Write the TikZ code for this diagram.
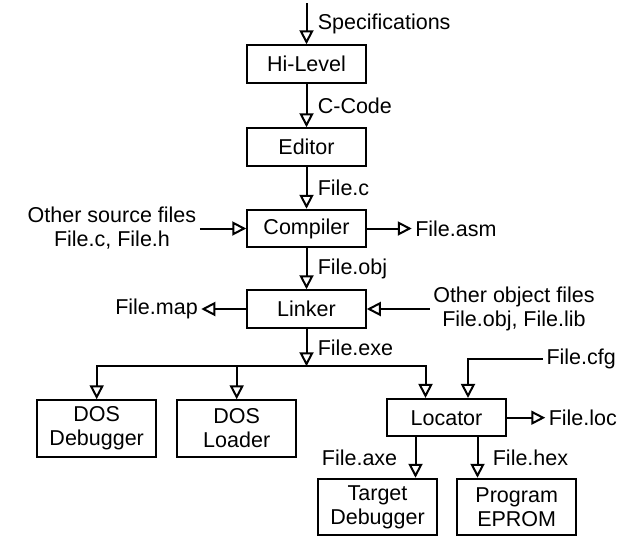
\documentclass[tikz,border=0pt]{standalone}
\usepackage{fontspec}
\setmainfont{Liberation Sans}
\usetikzlibrary{positioning, arrows.meta}

\begin{document}
\begin{tikzpicture}[x=1pt, y=1pt,
  every node/.style={font=\fontsize{21.5}{24}\selectfont},
  box/.style={draw, line width=2pt, minimum width=118.5pt, minimum height=37.5pt, align=center},
  tallbox/.style={box, minimum height=56.5pt},
  flow/.style={line width=2pt, -{Triangle[open, length=14pt, width=14pt]}}]
\useasboundingbox (0,0) rectangle (628,-536);
\coordinate (spec) at (306.5,-3);
\node[box] (hilevel) at (306.5,-64) {Hi-Level};
\node[box] (editor) [below=43.5pt of hilevel] {Editor};
\node[box] (compiler) [below=42pt of editor] {Compiler};
\node[box] (linker) [below=41pt of compiler] {Linker};
\node[align=center] (srcfiles) [left=46.5pt of compiler] {Other source files\\File.c, File.h};
\node (asm) [right=45pt of compiler] {File.asm};
\node (map) [left=45pt of linker] {File.map};
\node[align=center] (objfiles) [right=63pt of linker] {Other object files\\File.obj, File.lib};
\coordinate[below=37.5pt of linker] (bus);
\node[tallbox] (dosdbg) at (96.7,-428.5) {DOS\\Debugger};
\node[tallbox] (dosload) at (236.7,-428.5) {DOS\\Loader};
\node[box] (locator) at (446.5,-417.7) {Locator};
\node (loc) [right=38.5pt of locator] {File.loc};
\node (cfg) [anchor=west] at (543,-359.25) {File.cfg};
\node[tallbox] (tgtdbg) at (377.5,-507) {Target\\Debugger};
\node[tallbox] (eprom) at (516.7,-507) {Program\\EPROM};

\draw[flow] (spec) -- node[right=7pt] {Specifications} (hilevel);
\draw[flow] (hilevel) -- node[right=7pt] {C-Code} (editor);
\draw[flow] (editor) -- node[right=7pt] {File.c} (compiler);
\draw[flow] (compiler) -- node[right=7pt] {File.obj} (linker);
\draw[flow] (srcfiles) -- (compiler);
\draw[flow] (compiler) -- (asm);
\draw[flow] (linker) -- (map);
\draw[flow] (objfiles) -- (linker);
\draw[flow] (linker) -- node[right=7pt] {File.exe} (bus);
\draw[flow] (bus) -| (dosdbg);
\draw[flow] (bus) -| (dosload);
\draw[flow] (bus) -| ([xshift=-21pt]locator.north);
\draw[flow] (cfg) -| ([xshift=21.5pt]locator.north);
\draw[flow] (locator) -- (loc);
\draw[flow] ([xshift=-31pt]locator.south) -- node[left=14pt] {File.axe} ([xshift=-31pt]locator.south |- tgtdbg.north);
\draw[flow] ([xshift=31pt]locator.south) -- node[right=11pt] {File.hex} ([xshift=31pt]locator.south |- eprom.north);
\end{tikzpicture}
\end{document}
